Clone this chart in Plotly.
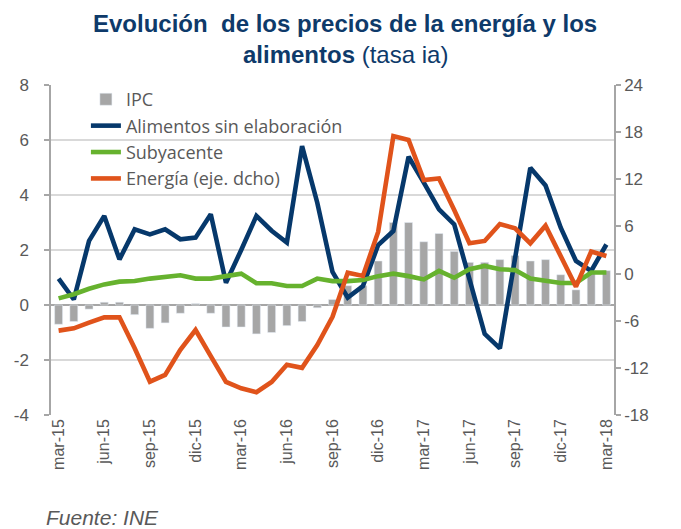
import plotly.graph_objects as go

months = ["mar-15","abr-15","may-15","jun-15","jul-15","ago-15","sep-15","oct-15","nov-15","dic-15",
          "ene-16","feb-16","mar-16","abr-16","may-16","jun-16","jul-16","ago-16","sep-16","oct-16","nov-16","dic-16",
          "ene-17","feb-17","mar-17","abr-17","may-17","jun-17","jul-17","ago-17","sep-17","oct-17","nov-17","dic-17",
          "ene-18","feb-18","mar-18"]

ipc = [-0.7,-0.6,-0.15,0.1,0.1,-0.35,-0.85,-0.65,-0.3,0.05,
       -0.3,-0.8,-0.8,-1.05,-1.0,-0.75,-0.6,-0.1,0.2,0.7,0.7,1.6,
       3.0,3.0,2.3,2.6,1.95,1.55,1.55,1.65,1.8,1.6,1.65,1.1,
       0.55,1.2,1.25]

alimentos = [0.96,0.2,2.33,3.24,1.66,2.75,2.57,2.75,2.39,2.45,
             3.3,0.81,2.0,3.24,2.7,2.27,5.78,3.72,1.2,0.27,0.69,2.18,
             2.69,5.39,4.45,3.48,2.93,0.9,-1.05,-1.58,1.72,4.99,4.35,2.81,
             1.6,1.24,2.2]

subyacente = [0.24,0.39,0.59,0.75,0.85,0.87,0.96,1.03,1.08,0.96,
              0.96,1.05,1.14,0.79,0.79,0.69,0.69,0.96,0.87,0.87,0.91,1.05,
              1.14,1.05,0.93,1.24,0.99,1.3,1.42,1.3,1.27,0.96,0.9,0.8,
              0.8,1.18,1.18]

energia = [-7.26,-6.97,-6.25,-5.57,-5.57,-9.5,-13.76,-12.9,-9.7,-7.18,
           -10.5,-13.8,-14.6,-15.1,-13.8,-11.6,-12.0,-9.1,-5.5,0.12,-0.3,5.3,
           17.5,17.0,11.9,12.1,8.1,3.85,4.15,6.3,5.76,3.85,6.1,2.15,
           -1.67,2.8,2.24]

left_ticks = [-4, -2, 0, 2, 4, 6, 8]
right_ticks = [-18, -12, -6, 0, 6, 12, 18, 24]

x = list(range(len(months)))
tick_idx = x[::3]
tick_txt = [months[i] for i in tick_idx]
bound_ticks = [i - 0.5 for i in tick_idx]

GRAY_TXT = "#595959"
AXIS = "#A6A6A6"
FONT = "Liberation Sans"
LEG_FONT = "Open Sans"
TITLE_C = "#0E3A6A"

fig = go.Figure()
fig.add_trace(go.Bar(x=x, y=ipc, name="IPC", marker_color="#A6A6A6", width=0.52, yaxis="y"))
fig.add_trace(go.Scatter(x=x, y=alimentos, name="Alimentos sin elaboración", mode="lines",
                         line=dict(color="#06386B", width=4.6), yaxis="y"))
fig.add_trace(go.Scatter(x=x, y=subyacente, name="Subyacente", mode="lines",
                         line=dict(color="#66B22E", width=4.6), yaxis="y"))
fig.add_trace(go.Scatter(x=x, y=energia, name="Energía (eje. dcho)", mode="lines",
                         line=dict(color="#E0531B", width=4.6), yaxis="y2"))

fig.update_layout(
    width=681, height=529,
    margin=dict(l=51, r=67, t=85, b=114, autoexpand=False),
    paper_bgcolor="white", plot_bgcolor="white",
    font=dict(family=FONT, color=GRAY_TXT, size=16),
    showlegend=True,
    legend=dict(x=0.062, y=1.012, xanchor="left", yanchor="top", bgcolor="rgba(0,0,0,0)",
                font=dict(size=18, color=GRAY_TXT, family=LEG_FONT), tracegroupgap=0),
    xaxis=dict(range=[-0.5, 36.5], tickmode="array", tickvals=tick_idx, ticktext=tick_txt,
               tickangle=-90, showgrid=False, showline=False, zeroline=False, ticks="",
               tickfont=dict(size=16, color=GRAY_TXT, family=FONT)),
    xaxis2=dict(range=[-0.5, 36.5], overlaying="x", anchor="free", position=1/3,
                showline=True, linecolor=AXIS, linewidth=1.5, ticks="outside", ticklen=5,
                tickcolor=AXIS, tickwidth=1.5, tickmode="array", tickvals=bound_ticks,
                showticklabels=False, showgrid=False, zeroline=False),
    yaxis=dict(range=[-4, 8], tickmode="array", tickvals=left_ticks,
               ticktext=[str(v) for v in left_ticks],
               showgrid=True, gridcolor="#D9D9D9", gridwidth=1.5,
               showline=True, linecolor=AXIS, linewidth=1.5, ticks="outside", ticklen=5,
               tickcolor=AXIS, tickwidth=1.5, zeroline=True, zerolinecolor=AXIS, zerolinewidth=1.5,
               tickfont=dict(size=17, color=GRAY_TXT, family=FONT), ticklabelstandoff=12),
    yaxis2=dict(range=[-18, 24], tickmode="array", tickvals=right_ticks,
                ticktext=[str(v) for v in right_ticks],
                overlaying="y", side="right", showgrid=False,
                showline=True, linecolor=AXIS, linewidth=1.5, ticks="outside", ticklen=5,
                tickcolor=AXIS, tickwidth=1.5, zeroline=False,
                tickfont=dict(size=17, color=GRAY_TXT, family=FONT), ticklabelstandoff=0),
)

fig.add_annotation(text="<b>Evolución  de los precios de la energía y los</b>",
                   xref="paper", yref="paper", x=0.5225, y=1.1855, xanchor="center",
                   yanchor="middle", showarrow=False,
                   font=dict(size=24, color=TITLE_C, family=FONT))
fig.add_annotation(text="<b>alimentos</b> (tasa ia)",
                   xref="paper", yref="paper", x=0.5225, y=1.0, xanchor="center",
                   yanchor="bottom", yshift=15, showarrow=False,
                   font=dict(size=24, color=TITLE_C, family=FONT))

fig.add_annotation(text="<i>Fuente: INE</i>", xref="paper", yref="paper", x=-0.012, y=-0.31,
                   xanchor="left", yanchor="middle", showarrow=False,
                   font=dict(size=21, color=GRAY_TXT, family=FONT))

fig.write_html("out.html", config={"displayModeBar": False},
               post_script="document.body.style.margin='0';document.body.style.padding='0';")
